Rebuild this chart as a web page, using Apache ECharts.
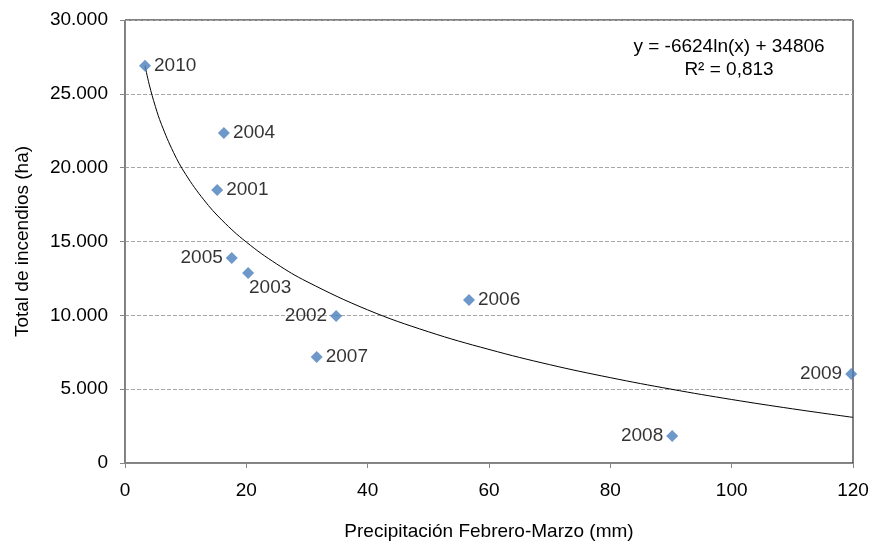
<!DOCTYPE html>
<html><head><meta charset="utf-8">
<script src="https://cdn.jsdelivr.net/npm/echarts@6/dist/echarts.min.js"></script>
<style>html,body{margin:0;padding:0;background:#fff}#c{width:873px;height:543px}</style>
</head><body><div id="c"></div>
<script>
const years = ['2001','2002','2003','2004','2005','2006','2007','2008','2009','2010'];
const precip = [15.2, 34.8, 20.3, 16.3, 17.6, 56.7, 31.6, 90.2, 119.7, 3.3];
const fires = [18490, 9950, 12870, 22350, 13880, 11040, 7180, 1830, 6030, 26900];
const labelPos = ['right','left','bottom','right','left','right','right','left','left','right'];
const trendX = [3.3, 4, 5, 6, 8, 10, 13, 16, 20, 25, 30, 40, 50, 60, 70, 80, 90, 100, 110, 120];
const trendY = [26900, 25620, 24150, 22940, 21030, 19550, 17820, 16440, 14960, 13480, 12280, 10370, 8890, 7690, 6660, 5780, 5000, 4300, 3670, 3090];
const yTicks = [0, 5000, 10000, 15000, 20000, 25000, 30000];
const eqText = ['y = -6624ln(x) + 34806', 'R² = 0,813'];

const font = 'Liberation Sans, Arial, sans-serif';
const FS = 19;
const TXT = '#000';
const fmt = v => v === 0 ? '0' : String(v).replace(/\B(?=(\d{3})+(?!\d))/g, '.');

const pts = precip.map((x, i) => {
  const pos = labelPos[i];
  const lbl = {show: true, position: pos, formatter: years[i], color: TXT, fontSize: FS, fontFamily: font, distance: 3};
  if (pos === 'bottom') { lbl.offset = [22, -4]; }
  return {value: [x, fires[i]], label: lbl};
});

const chart = echarts.init(document.getElementById('c'));
chart.setOption({
  animation: false,
  grid: {left: 125, right: 20, top: 20, bottom: 80, show: true, borderColor: '#000', borderWidth: 1,
    containLabel: false, outerBoundsMode: 'none'},
  xAxis: {
    type: 'value', min: 0, max: 120, interval: 20,
    name: 'Precipitación Febrero-Marzo (mm)', nameLocation: 'middle', nameGap: 59,
    nameTextStyle: {fontSize: FS, fontFamily: font, color: TXT},
    axisLine: {show: true, lineStyle: {color: '#868686'}},
    axisTick: {show: true, inside: false, length: 5, lineStyle: {color: '#868686'}},
    axisLabel: {fontSize: FS, fontFamily: font, color: TXT, margin: 18},
    splitLine: {show: false}
  },
  yAxis: {
    type: 'value', min: 0, max: 30000, interval: 5000,
    name: 'Total de incendios (ha)', nameLocation: 'middle', nameGap: 93,
    nameTextStyle: {fontSize: FS, fontFamily: font, color: TXT},
    axisLine: {show: true, lineStyle: {color: '#868686'}},
    axisTick: {show: true, inside: false, length: 5, lineStyle: {color: '#868686'}},
    axisLabel: {fontSize: FS, fontFamily: font, color: TXT, margin: 17, formatter: fmt,
      customValues: yTicks},
    splitLine: {show: true, lineStyle: {color: '#a6a6a6', type: [4, 2], width: 1}}
  },
  graphic: [
    {type: 'text', x: 729, y: 47, style: {text: eqText[0], fontSize: FS, fontFamily: font, fill: TXT, textAlign: 'center', textVerticalAlign: 'middle'}},
    {type: 'text', x: 729, y: 70, style: {text: eqText[1], fontSize: FS, fontFamily: font, fill: TXT, textAlign: 'center', textVerticalAlign: 'middle'}}
  ],
  series: [
    {type: 'line', data: trendX.map((x, i) => [x, trendY[i]]), smooth: 0.4, showSymbol: false,
      lineStyle: {color: '#000', width: 1}, z: 2, silent: true},
    {type: 'scatter', data: pts, symbol: 'diamond', symbolSize: 12,
      itemStyle: {color: '#4a7ebb'}, z: 3}
  ]
});
</script></body></html>
